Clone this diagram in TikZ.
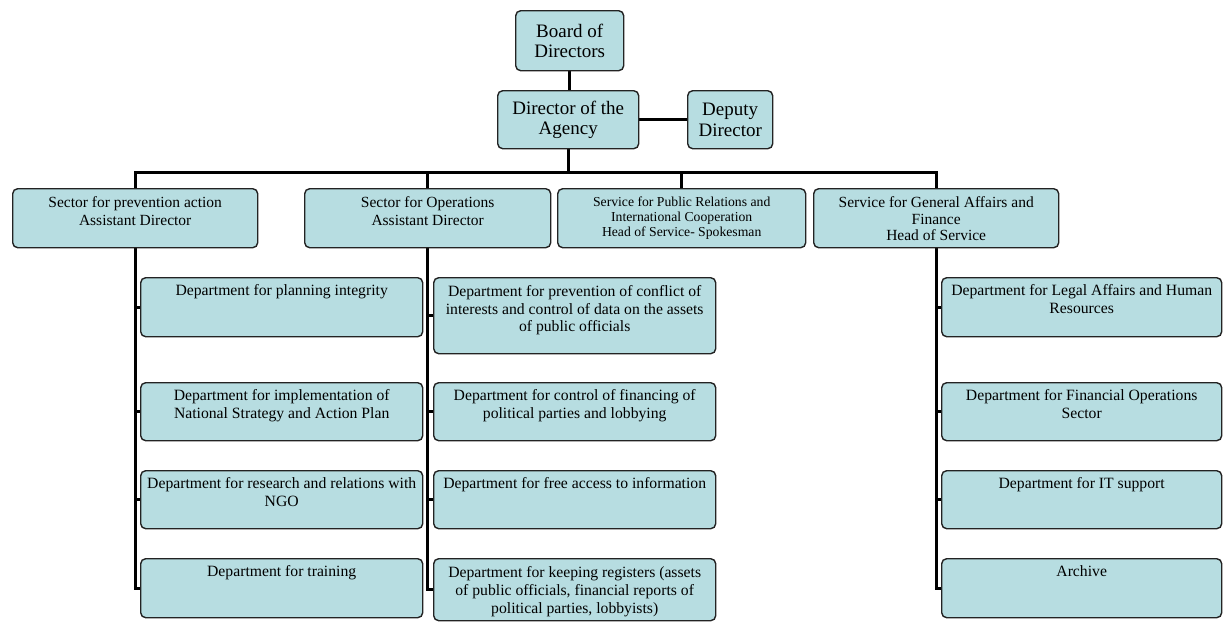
\documentclass[tikz,border=0pt]{standalone}
\usepackage{fontspec}
\setmainfont{Liberation Serif}
\usetikzlibrary{backgrounds}
\definecolor{boxfill}{RGB}{183,221,225}
\definecolor{boxline}{RGB}{35,35,35}
\newcommand{\pb}[4]{\parbox[c][#2][t]{#1}{\centering\rule{0pt}{#3}#4\par}}
\tikzset{
  obox/.style={draw=boxline, line width=1.4pt, fill=boxfill, rounded corners=5pt, inner sep=0pt, anchor=north west},
  topbox/.style={obox, align=center, font=\fontsize{19}{20.5}\selectfont},
  secbox/.style={obox, font=\fontsize{15.5}{18}\selectfont},
  gabox/.style={obox, font=\fontsize{15.5}{16.5}\selectfont},
  prbox/.style={obox, font=\fontsize{13.7}{15}\selectfont},
  deptbox/.style={obox, font=\fontsize{15.7}{18}\selectfont},
  deptboxb/.style={obox, font=\fontsize{15.7}{17.5}\selectfont},
  conn/.style={line width=3pt, draw=black}
}
\begin{document}
\begin{tikzpicture}[x=1pt,y=-1pt]
\useasboundingbox (0,0) rectangle (1223,621);
% top
\node[topbox, minimum width=108pt, minimum height=60pt] (board) at (515,10) {Board of\\Directors};
\node[topbox, minimum width=141pt, minimum height=58pt] (dir) at (497,90) {Director of the\\Agency};
\node[topbox, minimum width=85pt, minimum height=58pt] (dep) at (687,90) {Deputy\\Director};
% sectors
\node[secbox] (s1) at (12,188) {\pb{245pt}{59pt}{19pt}{Sector for prevention action\\Assistant Director}};
\node[secbox] (s2) at (304,188) {\pb{246pt}{59pt}{19pt}{Sector for Operations\\Assistant Director}};
\node[prbox] (s3) at (557,188) {\pb{248pt}{59pt}{18pt}{Service for Public Relations and\\International Cooperation\\Head of Service- Spokesman}};
\node[gabox] (s4) at (813,188) {\pb{245pt}{59pt}{19pt}{Service for General Affairs and\\Finance\\Head of Service}};
% column 1
\node[deptbox] (d11) at (140,277) {\pb{282pt}{59pt}{18pt}{Department for planning integrity}};
\node[deptbox] (d12) at (140,382) {\pb{282pt}{58pt}{18pt}{Department for implementation of\\National Strategy and Action Plan}};
\node[deptbox] (d13) at (140,470) {\pb{282pt}{58pt}{18pt}{Department for research and relations with\\NGO}};
\node[deptbox] (d14) at (140,558) {\pb{282pt}{59pt}{18pt}{Department for training}};
% column 2
\node[deptboxb] (d21) at (433,277) {\pb{282pt}{76pt}{19pt}{Department for prevention of conflict of\\interests and control of data on the assets\\of public officials}};
\node[deptbox] (d22) at (433,382) {\pb{282pt}{58pt}{18pt}{Department for control of financing of\\political parties and lobbying}};
\node[deptbox] (d23) at (433,470) {\pb{282pt}{58pt}{18pt}{Department for free access to information}};
\node[deptbox] (d24) at (433,558) {\pb{282pt}{62pt}{19pt}{Department for keeping registers (assets\\of public officials, financial reports of\\political parties, lobbyists)}};
% column 3
\node[deptbox] (d31) at (941,277) {\pb{280pt}{59pt}{18pt}{Department for Legal Affairs and Human\\Resources}};
\node[deptbox] (d32) at (941,382) {\pb{280pt}{58pt}{18pt}{Department for Financial Operations\\Sector}};
\node[deptbox] (d33) at (941,470) {\pb{280pt}{58pt}{18pt}{Department for IT support}};
\node[deptbox] (d34) at (941,558) {\pb{280pt}{59pt}{18pt}{Archive}};
% connectors
\begin{scope}[on background layer]
\coordinate (bus) at (568,172);
\draw[conn] (board.south) -- (board.south |- dir.north);
\draw[conn] (dir.east) -- (dep.west);
\draw[conn] (dir.south) -- (dir.south |- bus);
\draw[conn] (s1.north) |- (bus) -| (s4.north);
\draw[conn] (s2.north) -- (s2.north |- bus);
\draw[conn] (s3.north) -- (s3.north |- bus);
\draw[conn] (s1.south) |- (d14.west);
\draw[conn] (s1.south |- d11.west) -- (d11.west);
\draw[conn] (s1.south |- d12.west) -- (d12.west);
\draw[conn] (s1.south |- d13.west) -- (d13.west);
\draw[conn] (s2.south) |- (d24.west);
\draw[conn] (s2.south |- d21.west) -- (d21.west);
\draw[conn] (s2.south |- d22.west) -- (d22.west);
\draw[conn] (s2.south |- d23.west) -- (d23.west);
\draw[conn] (s4.south) |- (d34.west);
\draw[conn] (s4.south |- d31.west) -- (d31.west);
\draw[conn] (s4.south |- d32.west) -- (d32.west);
\draw[conn] (s4.south |- d33.west) -- (d33.west);
\end{scope}
\end{tikzpicture}
\end{document}
